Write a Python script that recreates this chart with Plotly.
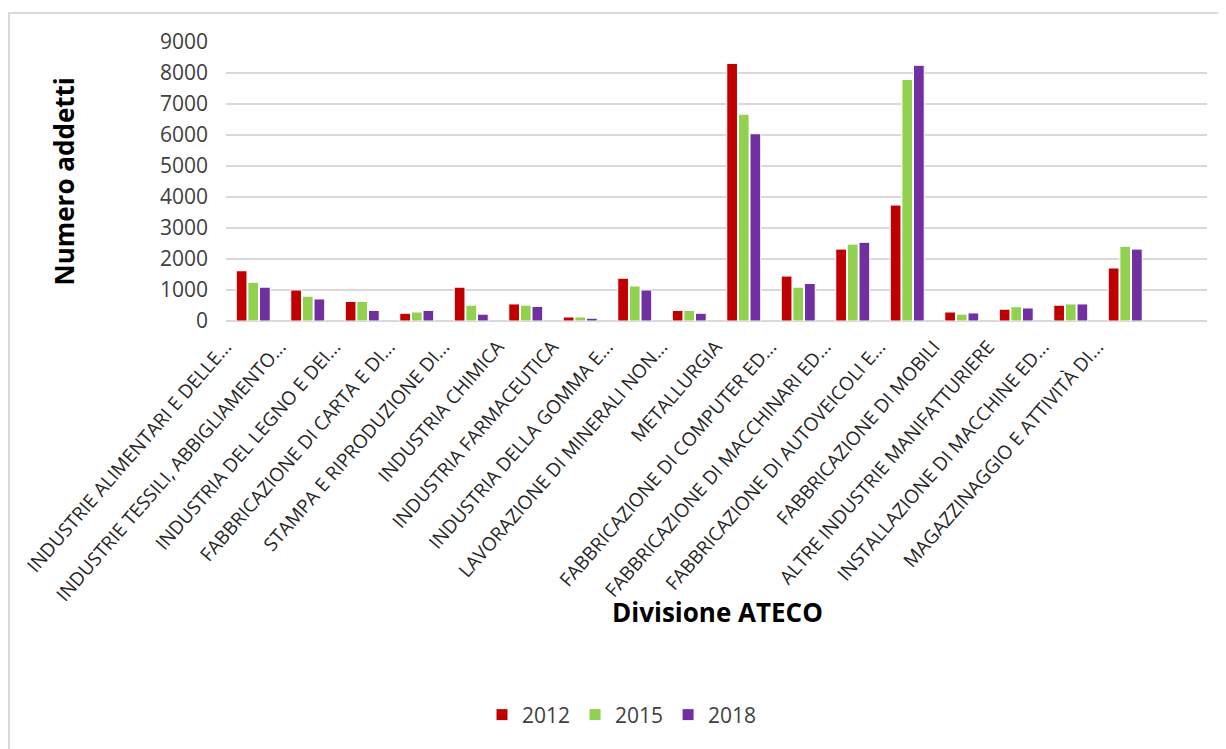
import plotly.graph_objects as go

categories = [
    "INDUSTRIE ALIMENTARI E DELLE...",
    "INDUSTRIE TESSILI, ABBIGLIAMENTO...",
    "INDUSTRIA DEL LEGNO E DEI...",
    "FABBRICAZIONE DI CARTA E DI...",
    "STAMPA E RIPRODUZIONE DI...",
    "INDUSTRIA CHIMICA",
    "INDUSTRIA FARMACEUTICA",
    "INDUSTRIA DELLA GOMMA E...",
    "LAVORAZIONE DI MINERALI NON...",
    "METALLURGIA",
    "FABBRICAZIONE DI COMPUTER ED...",
    "FABBRICAZIONE DI MACCHINARI ED...",
    "FABBRICAZIONE DI AUTOVEICOLI E...",
    "FABBRICAZIONE DI MOBILI",
    "ALTRE INDUSTRIE MANIFATTURIERE",
    "INSTALLAZIONE DI MACCHINE ED...",
    "MAGAZZINAGGIO E ATTIVITÀ DI...",
]

addetti_2012 = [1620, 1000, 630, 250, 1090, 550, 130, 1380, 340, 8310, 1450, 2320, 3740, 290, 380, 510, 1710]
addetti_2015 = [1250, 800, 630, 290, 510, 510, 130, 1130, 340, 6670, 1090, 2480, 7790, 220, 460, 550, 2410]
addetti_2018 = [1090, 710, 340, 340, 220, 470, 90, 1000, 250, 6040, 1210, 2540, 8250, 260, 420, 550, 2320]

years = ["2012", "2015", "2018"]
colors = ["#C00000", "#92D050", "#7030A0"]

# the page puts the figure 8px in from the top-left corner, so the figure is
# sized to what is visible and the reference pixel positions are shifted by 8
OFF = 8
W, H = 1226 - OFF, 749 - OFF
L, R, T, B = 226 - OFF, 1226 - 1207, 42 - OFF, 749 - 321
pw, ph = W - L - R, H - T - B


def px_x(x):
    return (x - OFF - L) / pw


def px_y(y):
    return (H - B - (y - OFF)) / ph


fig = go.Figure()
for year, vals, col in zip(years, [addetti_2012, addetti_2015, addetti_2018], colors):
    fig.add_trace(go.Bar(
        name=year, x=categories, y=vals,
        marker=dict(color=col, line=dict(color="white", width=1)),
    ))

font_family = "Open Sans, Noto Sans, sans-serif"

fig.update_layout(
    width=W, height=H,
    margin=dict(l=L, r=R, t=T, b=B, autoexpand=False),
    paper_bgcolor="white", plot_bgcolor="white",
    barmode="group", bargap=0.36, bargroupgap=0.08,
    font=dict(family=font_family, color="#404040"),
    showlegend=True,
    legend=dict(
        orientation="h", x=px_x(622), y=px_y(715),
        xanchor="center", yanchor="middle",
        font=dict(size=21, color="#404040"),
        itemwidth=30, traceorder="normal",
    ),
)

# Excel draws the rotated labels a little left of and below the category centre
fig.update_xaxes(
    type="category", range=[-0.5, 17.5],
    tickangle=-49, tickfont=dict(size=19, color="#262626"),
    ticklabelshift=-28, ticklabelstandoff=10,
    showgrid=False, showline=False, ticks="", automargin=False,
)
fig.update_yaxes(
    range=[0, 9000], dtick=1000, tickfont=dict(size=21, color="#404040"),
    showgrid=True, gridcolor="#D9D9D9", gridwidth=1.5,
    zeroline=True, zerolinecolor="#D9D9D9", zerolinewidth=1.5,
    showline=False, ticks="", ticklabelstandoff=17, automargin=False,
)

fig.add_annotation(
    text="<b>Numero addetti</b>", xref="paper", yref="paper",
    x=px_x(63), y=0.5, xanchor="center", yanchor="middle",
    textangle=-90, showarrow=False,
    font=dict(size=26, color="black", family=font_family),
)
fig.add_annotation(
    text="<b>Divisione ATECO</b>", xref="paper", yref="paper",
    x=px_x(717), y=px_y(612), xanchor="center", yanchor="middle",
    showarrow=False,
    font=dict(size=26, color="black", family=font_family),
)

# chart frame
fig.add_shape(
    type="rect", xref="paper", yref="paper",
    x0=px_x(9), x1=px_x(1240), y0=px_y(13), y1=px_y(770),
    line=dict(color="#D9D9D9", width=2), fillcolor="rgba(0,0,0,0)", layer="below",
)

fig.write_html("out.html")
